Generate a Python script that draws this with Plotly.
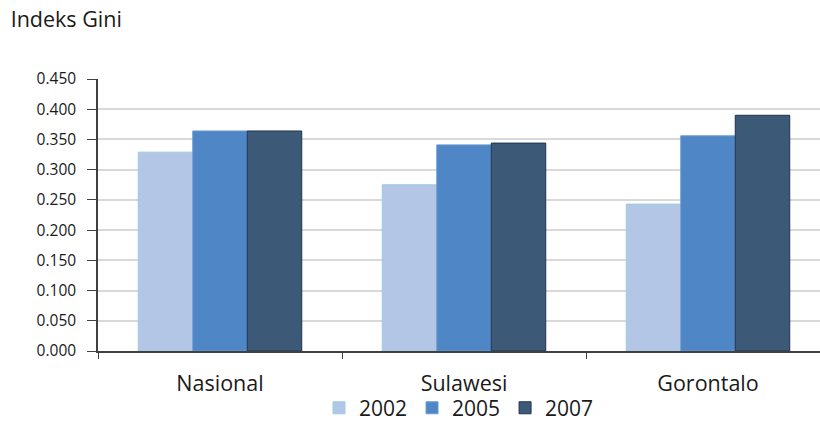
import plotly.graph_objects as go

regions = ["Nasional", "Sulawesi", "Gorontalo"]
years = ["2002", "2005", "2007"]
gini_2002 = [0.329, 0.275, 0.243]
gini_2005 = [0.364, 0.341, 0.356]
gini_2007 = [0.364, 0.344, 0.390]
y_ticks = [0.0, 0.05, 0.1, 0.15, 0.2, 0.25, 0.3, 0.35, 0.4, 0.45]

series = [gini_2002, gini_2005, gini_2007]
fills = ["#B3C6E6", "#4F86C6", "#3C5A78"]
edges = ["#9CCBE0", "#6C9BD2", "#1F3350"]

FONT = "Open Sans, Noto Sans, sans-serif"

fig = go.Figure()
for name, vals, fc, ec in zip(years, series, fills, edges):
    fig.add_trace(go.Bar(
        x=regions, y=vals, name=name,
        marker=dict(color=fc, line=dict(color=ec, width=1)),
    ))

fig.update_layout(
    width=820, height=421,
    margin=dict(l=98, r=0, t=79, b=70, autoexpand=False),
    paper_bgcolor="white", plot_bgcolor="white",
    barmode="group", bargap=0.33, bargroupgap=0,
    font=dict(family=FONT, color="#1a1a1a"),
    title=dict(text="Indeks Gini", x=0.013, xref="container", xanchor="left",
               y=1 - 19 / 421, yref="container", yanchor="middle",
               font=dict(size=21.5, family=FONT, color="#1a1a1a")),
    legend=dict(orientation="h", x=0.5, xanchor="center", y=-0.21,
                yanchor="middle", font=dict(size=21, family=FONT),
                bgcolor="rgba(0,0,0,0)", itemwidth=30, traceorder="normal"),
    showlegend=True,
)

fig.update_xaxes(
    type="category", range=[-0.5, 2.459], automargin=False,
    showline=True, linecolor="#404040", linewidth=1.5,
    ticks="outside", tickson="boundaries", ticklen=6, tickcolor="#404040",
    tickfont=dict(size=21.5, family=FONT, color="#1a1a1a"),
    ticklabelstandoff=12,
    showgrid=False,
)
fig.update_yaxes(
    range=[0, 0.45], tickvals=y_ticks, tickformat=".3f", automargin=False,
    showline=True, linecolor="#404040", linewidth=1.5,
    ticks="outside", ticklen=9, tickcolor="#404040",
    tickfont=dict(size=15.5, family=FONT, color="#1a1a1a"),
    ticklabelstandoff=8,
    showgrid=True, gridcolor="#D9D9D9", gridwidth=2,
    zeroline=False,
)

fig.write_html("out.html")
